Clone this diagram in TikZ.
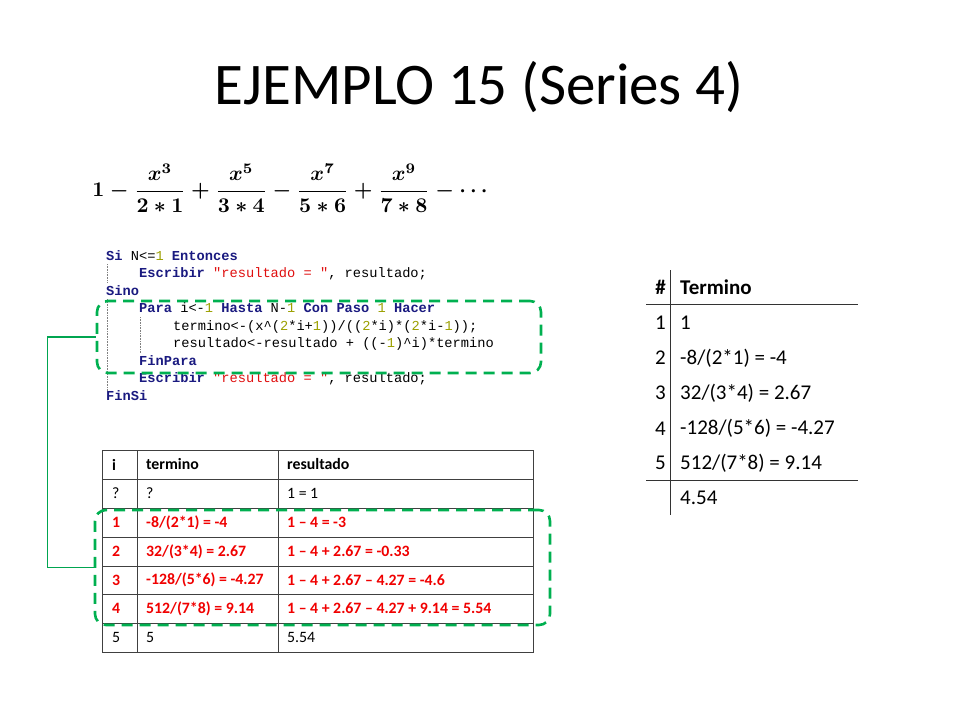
\documentclass[tikz,border=0pt]{standalone}
\usepackage{fontspec}
\setmainfont{Carlito}
\setmonofont{Liberation Mono}
\usetikzlibrary{positioning}
\definecolor{kwblue}{HTML}{1A1A80}
\definecolor{strred}{HTML}{E01010}
\definecolor{numolive}{HTML}{9CA000}
\definecolor{boxgreen}{HTML}{00B050}
\definecolor{linkgreen}{HTML}{00A550}
\definecolor{rowred}{HTML}{F00000}
\newcommand{\kwd}[1]{\textbf{\textcolor{kwblue}{#1}}}
\newcommand{\strg}[1]{\textcolor{strred}{#1}}
\newcommand{\nmb}[1]{\textcolor{numolive}{#1}}

\begin{document}
\begin{tikzpicture}[x=1pt, y=-1pt,
    code/.style = {anchor=base west, inner sep=0pt, font=\ttfamily\fontsize{13.7}{16}\selectfont},
    cell/.style = {anchor=west, inner sep=0pt, font=\fontsize{15.8}{18}\selectfont},
    hot/.style = {cell, text=rowred, font=\bfseries\fontsize{15.8}{18}\selectfont},
    sum/.style = {inner sep=0pt, font=\fontsize{21}{25}\selectfont},
    dashbox/.style = {draw=boxgreen, line width=2.6pt, dash pattern=on 11pt off 7pt, rounded corners=11pt},
    link/.style = {draw=linkgreen, line width=1.2pt},
    guide/.style = {draw=gray, densely dotted, line width=0.6pt},
    rule/.style = {draw=black!75, line width=0.8pt}]
  \useasboundingbox[fill=white] (0,0) rectangle (960,720);

  % title and series
  \node[font=\fontsize{59}{70}\selectfont] (title) at (479,87) {EJEMPLO 15 (Series 4)};
  \node (series) at (290,188) {\resizebox{395pt}{!}{\boldmath
    $\displaystyle 1-\frac{x^3}{2*1}+\frac{x^5}{3*4}-\frac{x^7}{5*6}+\frac{x^9}{7*8}-\cdots$}};

  % pseudocode
  \node[code] (c1) at (106,260) {\kwd{Si} N<=\nmb{1} \kwd{Entonces}};
  \node[code] (c2) at (139,277.5) {\kwd{Escribir} \strg{"resultado = "}, resultado;};
  \node[code] (c3) at (106,295) {\kwd{Sino}};
  \node[code] (c4) at (139,312.5) {\kwd{Para} i<-\nmb{1} \kwd{Hasta} N-\nmb{1} \kwd{Con Paso} \nmb{1} \kwd{Hacer}};
  \node[code] (c5) at (173,330) {termino<-(x\textasciicircum(\nmb{2}*i+\nmb{1}))/((\nmb{2}*i)*(\nmb{2}*i-\nmb{1}));};
  \node[code] (c6) at (173,347.5) {resultado<-resultado + ((-\nmb{1})\textasciicircum i)*termino};
  \node[code] (c7) at (139,365) {\kwd{FinPara}};
  \node[code] (c8) at (139,382.5) {\kwd{Escribir} \strg{"resultado = "}, resultado;};
  \node[code] (c9) at (106,400) {\kwd{FinSi}};
  \draw[guide] (107,264) -- (107,283);
  \draw[guide] (107,299) -- (107,391);
  \draw[guide] (140,317) -- (140,353);

  % trace table
  \draw[rule] (102,450) rectangle (533,652);
  \foreach \y in {479,508,537,566,594,623}
    \draw[rule] (102,\y) -- (533,\y);
  \draw[rule] (137,450) -- (137,652);
  \draw[rule] (278,450) -- (278,652);

  \node[cell, font=\bfseries\fontsize{15.8}{18}\selectfont] (hi) at (112,464.5) {i};
  \node[cell, font=\bfseries\fontsize{15.8}{18}\selectfont] (ht) at (146,464.5) {termino};
  \node[cell, font=\bfseries\fontsize{15.8}{18}\selectfont] (hr) at (287,464.5) {resultado};
  \node[cell] (i0) at (112,493.5) {?};
  \node[cell] (t0) at (146,493.5) {?};
  \node[cell] (r0) at (287,493.5) {1 = 1};
  \node[hot] (i1) at (112,522.5) {1};
  \node[hot] (t1) at (146,522.5) {-8/(2*1) = -4};
  \node[hot] (r1) at (287,522.5) {1 – 4 = -3};
  \node[hot] (i2) at (112,551.5) {2};
  \node[hot] (t2) at (146,551.5) {32/(3*4) = 2.67};
  \node[hot] (r2) at (287,551.5) {1 – 4 + 2.67 = -0.33};
  \node[hot] (i3) at (112,580) {3};
  \node[hot] (t3) at (146,580) {-128/(5*6) = -4.27};
  \node[hot] (r3) at (287,580) {1 – 4 + 2.67 – 4.27 = -4.6};
  \node[hot] (i4) at (112,608.5) {4};
  \node[hot] (t4) at (146,608.5) {512/(7*8) = 9.14};
  \node[hot] (r4) at (287,608.5) {1 – 4 + 2.67 – 4.27 + 9.14 = 5.54};
  \node[cell] (i5) at (112,637.5) {5};
  \node[cell] (t5) at (146,637.5) {5};
  \node[cell] (r5) at (287,637.5) {5.54};

  % dashed boxes and their link
  \node[dashbox, minimum width=444pt, minimum height=72pt] (loopbox) at (319,337) {};
  \node[dashbox, minimum width=455pt, minimum height=115pt] (rowsbox) at (322.5,567.5) {};
  \draw[link] (loopbox.west) -- ++(-48,0) |- (rowsbox.west);

  % term table
  \draw[draw=black!80, line width=0.8pt] (670,270) -- (670,515);
  \draw[draw=black!80, line width=0.8pt] (646,304) -- (858,304);
  \draw[draw=black!80, line width=0.8pt] (646,480) -- (858,480);
  \node[sum, anchor=east, font=\bfseries\fontsize{21}{25}\selectfont] (n0) at (666,287) {\#};
  \node[sum, anchor=west, font=\bfseries\fontsize{21}{25}\selectfont] (s0) at (680,287) {Termino};
  \node[sum, anchor=east] (n1) at (666,322.5) {1};
  \node[sum, anchor=west] (s1) at (680,322.5) {1};
  \node[sum, anchor=east] (n2) at (666,358) {2};
  \node[sum, anchor=west] (s2) at (680,358) {-8/(2*1) = -4};
  \node[sum, anchor=east] (n3) at (666,393) {3};
  \node[sum, anchor=west] (s3) at (680,393) {32/(3*4) = 2.67};
  \node[sum, anchor=east] (n4) at (666,428.5) {4};
  \node[sum, anchor=west] (s4) at (680,428.5) {-128/(5*6) = -4.27};
  \node[sum, anchor=east] (n5) at (666,463) {5};
  \node[sum, anchor=west] (s5) at (680,463) {512/(7*8) = 9.14};
  \node[sum, anchor=west] (s6) at (680,498) {4.54};
\end{tikzpicture}
\end{document}
